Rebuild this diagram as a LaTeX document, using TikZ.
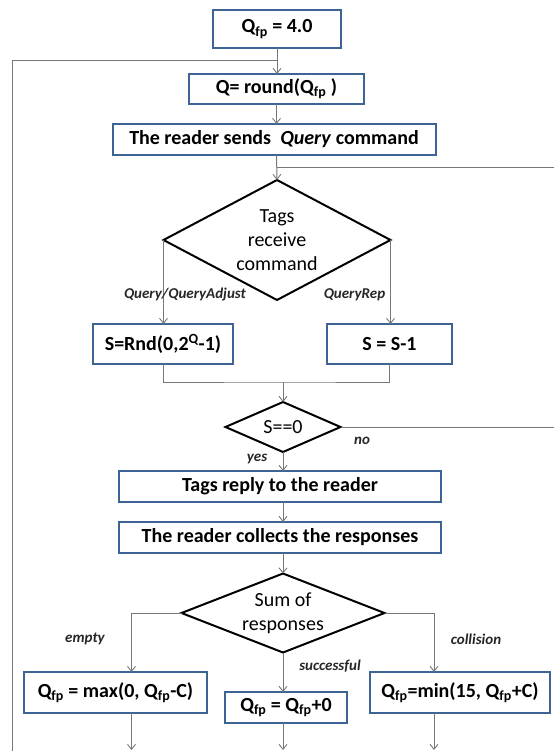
\documentclass[tikz,border=0pt]{standalone}
\usepackage{fontspec}
\setmainfont{Carlito}
\usetikzlibrary{arrows.meta,shapes.geometric}
\definecolor{boxblue}{RGB}{62,100,150}
\definecolor{linegray}{RGB}{120,120,120}
\newcommand{\qfp}{Q\textsubscript{fp}}

\begin{document}
\begin{tikzpicture}[x=1pt,y=-1pt,
  every node/.style={inner sep=0pt,outer sep=0pt},
  procbox/.style={draw=boxblue,line width=2pt,rectangle,fill=white,
    font=\fontsize{20}{24}\selectfont\bfseries},
  decision/.style={draw=black,line width=2pt,diamond},
  dtext/.style={align=center,font=\fontsize{20}{24}\selectfont},
  conn/.style={draw=linegray,line width=1pt},
  flow/.style={conn,-{Straight Barb[length=5pt,width=8pt,line width=0.9pt]}},
  edgelabel/.style={font=\fontsize{15}{18}\selectfont\bfseries\itshape,text=black!85}
]
\useasboundingbox (0,0) rectangle (554,751);

% process boxes
\node[procbox,minimum width=128,minimum height=38] (init) at (277,29) {\qfp{} = 4.0};
\node[procbox,minimum width=175,minimum height=30] (round) at (276.5,89) {Q= round(\qfp{} )};
\node[procbox,minimum width=323,minimum height=31] (query) at (274,139.5) {The reader sends\ \ \textit{Query} command};
\node[procbox,minimum width=140,minimum height=40] (rnd) at (163,344) {S=Rnd(0,2\textsuperscript{Q}-1)};
\node[procbox,minimum width=125,minimum height=40] (dec) at (389.5,344) {S = S-1};
\node[procbox,minimum width=322,minimum height=31] (reply) at (280,486.5) {Tags reply to the reader};
\node[procbox,minimum width=322,minimum height=31] (collect) at (280,537.5) {The reader collects the responses};
\node[procbox,minimum width=183,minimum height=41] (qmax) at (115.5,692.5) {\qfp{} = max(0, \qfp-C)};
\node[procbox,minimum width=122,minimum height=31] (qkeep) at (286,707.5) {\qfp{} = \qfp+0};
\node[procbox,minimum width=180,minimum height=41] (qmin) at (460,692.5) {\qfp=min(15, \qfp+C)};

% decisions
\node[decision,minimum width=227,minimum height=120] (recv) at (277,240) {};
\node[dtext] at (recv) {Tags\\receive\\command};
\node[decision,minimum width=115,minimum height=50] (zero) at (283,427) {};
\node[dtext] at (zero) {S==0};
\node[decision,minimum width=203,minimum height=79] (sum) at (283,613) {};
\node[dtext] at (sum) {Sum of\\responses};

% junction and loose-end points
\coordinate (loopTop) at (277,61);
\coordinate (loopCorner) at (12,61);
\coordinate (loopBottom) at (12,751);
\coordinate (repJoin) at (277,168);
\coordinate (repOut) at (554,168);
\coordinate (merge) at (283,382);
\coordinate (noOut) at (554,427);
\coordinate (emptyTurn) at (131.5,613);
\coordinate (collTurn) at (434,613);
\coordinate (emptyOut) at (131.5,750);
\coordinate (keepOut) at (283,750);
\coordinate (collOut) at (434,750);

% connectors
\draw[flow] (init.south) -- (init.south |- round.north);
\draw[conn] (loopBottom) -- (loopCorner) -- (loopTop);
\draw[flow] (round.south) -- (round.south |- query.north);
\draw[flow] (round.south |- query.south) -- (recv.north);
\draw[conn] (repJoin) -- (repOut);
\draw[flow] (recv.west) -- (recv.west |- rnd.north);
\draw[flow] (recv.east) -- (recv.east |- dec.north);
\draw[conn] (rnd.south) |- (merge) -| (dec.south);
\draw[flow] (merge) -- (zero.north);
\draw[conn] (zero.east) -- (noOut);
\draw[flow] (zero.south) -- (zero.south |- reply.north);
\draw[flow] (zero.south |- reply.south) -- (zero.south |- collect.north);
\draw[flow] (zero.south |- collect.south) -- (sum.north);
\draw[flow] (sum.west) -- (emptyTurn) -- (emptyTurn |- qmax.north);
\draw[flow] (sum.east) -- (collTurn) -- (collTurn |- qmin.north);
\draw[flow] (sum.south) -- (sum.south |- qkeep.north);
\draw[flow] (emptyTurn |- qmax.south) -- (emptyOut);
\draw[flow] (sum.south |- qkeep.south) -- (keepOut);
\draw[flow] (collTurn |- qmin.south) -- (collOut);

% branch labels
\node[edgelabel] (lq) at (185,295) {Query/QueryAdjust};
\node[edgelabel] (lrep) at (354.5,295) {QueryRep};
\node[edgelabel] (lno) at (362,441) {no};
\node[edgelabel] (lyes) at (257,459) {yes};
\node[edgelabel] (lempty) at (85,639) {empty};
\node[edgelabel] (lsucc) at (330,666) {successful};
\node[edgelabel] (lcoll) at (476,639) {collision};
\end{tikzpicture}
\end{document}
